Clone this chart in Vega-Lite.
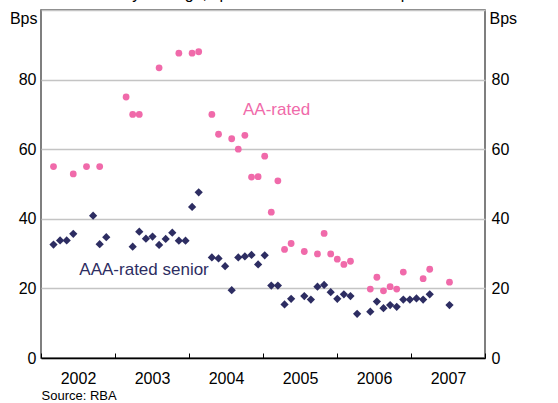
{
  "$schema": "https://vega.github.io/schema/vega-lite/v6.json",
  "width": 444,
  "height": 348,
  "autosize": {"type": "none"},
  "padding": {"left": 41, "top": 10, "right": 73, "bottom": 45},
  "background": "white",
  "config": {
    "font": "Liberation Sans",
    "view": {"stroke": "#555555", "strokeWidth": 1.5},
    "axis": {"labelFont": "Liberation Sans", "titleFont": "Liberation Sans", "labelColor": "#000000", "titleColor": "#000000"}
  },
  "title": {
    "text": "Monthly average, spread to the bank bill swap rate",
    "fontSize": 16,
    "fontWeight": "normal",
    "color": "#000000",
    "anchor": "middle",
    "frame": "group",
    "baseline": "alphabetic",
    "offset": -5
  },
  "datasets": {
    "spreads": [
      {"t": 2002.169, "series": "AAA-rated senior", "bps": 32.6},
      {"t": 2002.258, "series": "AAA-rated senior", "bps": 33.8},
      {"t": 2002.347, "series": "AAA-rated senior", "bps": 33.8},
      {"t": 2002.436, "series": "AAA-rated senior", "bps": 35.7},
      {"t": 2002.704, "series": "AAA-rated senior", "bps": 40.9},
      {"t": 2002.793, "series": "AAA-rated senior", "bps": 32.7},
      {"t": 2002.882, "series": "AAA-rated senior", "bps": 34.7},
      {"t": 2003.239, "series": "AAA-rated senior", "bps": 32.0},
      {"t": 2003.328, "series": "AAA-rated senior", "bps": 36.3},
      {"t": 2003.418, "series": "AAA-rated senior", "bps": 34.3},
      {"t": 2003.507, "series": "AAA-rated senior", "bps": 34.9},
      {"t": 2003.596, "series": "AAA-rated senior", "bps": 32.5},
      {"t": 2003.685, "series": "AAA-rated senior", "bps": 34.2},
      {"t": 2003.774, "series": "AAA-rated senior", "bps": 36.0},
      {"t": 2003.863, "series": "AAA-rated senior", "bps": 33.7},
      {"t": 2003.953, "series": "AAA-rated senior", "bps": 33.7},
      {"t": 2004.042, "series": "AAA-rated senior", "bps": 43.4},
      {"t": 2004.131, "series": "AAA-rated senior", "bps": 47.6},
      {"t": 2004.309, "series": "AAA-rated senior", "bps": 28.9},
      {"t": 2004.399, "series": "AAA-rated senior", "bps": 28.6},
      {"t": 2004.488, "series": "AAA-rated senior", "bps": 26.4},
      {"t": 2004.577, "series": "AAA-rated senior", "bps": 19.5},
      {"t": 2004.666, "series": "AAA-rated senior", "bps": 28.9},
      {"t": 2004.755, "series": "AAA-rated senior", "bps": 29.2},
      {"t": 2004.845, "series": "AAA-rated senior", "bps": 29.6},
      {"t": 2004.934, "series": "AAA-rated senior", "bps": 26.9},
      {"t": 2005.023, "series": "AAA-rated senior", "bps": 29.5},
      {"t": 2005.112, "series": "AAA-rated senior", "bps": 20.8},
      {"t": 2005.201, "series": "AAA-rated senior", "bps": 20.8},
      {"t": 2005.291, "series": "AAA-rated senior", "bps": 15.4},
      {"t": 2005.380, "series": "AAA-rated senior", "bps": 17.0},
      {"t": 2005.558, "series": "AAA-rated senior", "bps": 17.8},
      {"t": 2005.647, "series": "AAA-rated senior", "bps": 16.8},
      {"t": 2005.736, "series": "AAA-rated senior", "bps": 20.5},
      {"t": 2005.826, "series": "AAA-rated senior", "bps": 21.0},
      {"t": 2005.915, "series": "AAA-rated senior", "bps": 18.9},
      {"t": 2006.004, "series": "AAA-rated senior", "bps": 17.0},
      {"t": 2006.093, "series": "AAA-rated senior", "bps": 18.3},
      {"t": 2006.182, "series": "AAA-rated senior", "bps": 17.8},
      {"t": 2006.272, "series": "AAA-rated senior", "bps": 12.7},
      {"t": 2006.450, "series": "AAA-rated senior", "bps": 13.3},
      {"t": 2006.539, "series": "AAA-rated senior", "bps": 16.2},
      {"t": 2006.628, "series": "AAA-rated senior", "bps": 14.3},
      {"t": 2006.718, "series": "AAA-rated senior", "bps": 15.2},
      {"t": 2006.807, "series": "AAA-rated senior", "bps": 14.7},
      {"t": 2006.896, "series": "AAA-rated senior", "bps": 16.8},
      {"t": 2006.985, "series": "AAA-rated senior", "bps": 16.8},
      {"t": 2007.074, "series": "AAA-rated senior", "bps": 17.1},
      {"t": 2007.164, "series": "AAA-rated senior", "bps": 16.8},
      {"t": 2007.253, "series": "AAA-rated senior", "bps": 18.3},
      {"t": 2007.520, "series": "AAA-rated senior", "bps": 15.2},
      {"t": 2002.169, "series": "AA-rated", "bps": 55.0},
      {"t": 2002.436, "series": "AA-rated", "bps": 52.9},
      {"t": 2002.615, "series": "AA-rated", "bps": 55.0},
      {"t": 2002.793, "series": "AA-rated", "bps": 55.0},
      {"t": 2003.150, "series": "AA-rated", "bps": 75.0},
      {"t": 2003.239, "series": "AA-rated", "bps": 70.0},
      {"t": 2003.328, "series": "AA-rated", "bps": 70.0},
      {"t": 2003.596, "series": "AA-rated", "bps": 83.4},
      {"t": 2003.863, "series": "AA-rated", "bps": 87.6},
      {"t": 2004.042, "series": "AA-rated", "bps": 87.6},
      {"t": 2004.131, "series": "AA-rated", "bps": 88.0},
      {"t": 2004.309, "series": "AA-rated", "bps": 70.0},
      {"t": 2004.399, "series": "AA-rated", "bps": 64.3},
      {"t": 2004.577, "series": "AA-rated", "bps": 63.0},
      {"t": 2004.666, "series": "AA-rated", "bps": 60.0},
      {"t": 2004.755, "series": "AA-rated", "bps": 64.0},
      {"t": 2004.845, "series": "AA-rated", "bps": 52.0},
      {"t": 2004.934, "series": "AA-rated", "bps": 52.1},
      {"t": 2005.023, "series": "AA-rated", "bps": 58.0},
      {"t": 2005.112, "series": "AA-rated", "bps": 41.9},
      {"t": 2005.201, "series": "AA-rated", "bps": 50.9},
      {"t": 2005.291, "series": "AA-rated", "bps": 31.2},
      {"t": 2005.380, "series": "AA-rated", "bps": 32.9},
      {"t": 2005.558, "series": "AA-rated", "bps": 30.6},
      {"t": 2005.736, "series": "AA-rated", "bps": 29.9},
      {"t": 2005.826, "series": "AA-rated", "bps": 35.8},
      {"t": 2005.915, "series": "AA-rated", "bps": 29.9},
      {"t": 2006.004, "series": "AA-rated", "bps": 28.4},
      {"t": 2006.093, "series": "AA-rated", "bps": 26.9},
      {"t": 2006.182, "series": "AA-rated", "bps": 27.8},
      {"t": 2006.450, "series": "AA-rated", "bps": 19.8},
      {"t": 2006.539, "series": "AA-rated", "bps": 23.2},
      {"t": 2006.628, "series": "AA-rated", "bps": 19.3},
      {"t": 2006.718, "series": "AA-rated", "bps": 20.5},
      {"t": 2006.807, "series": "AA-rated", "bps": 19.8},
      {"t": 2006.896, "series": "AA-rated", "bps": 24.7},
      {"t": 2007.164, "series": "AA-rated", "bps": 22.8},
      {"t": 2007.253, "series": "AA-rated", "bps": 25.5},
      {"t": 2007.520, "series": "AA-rated", "bps": 21.8}
    ]
  },
  "layer": [
    {
      "data": {"name": "spreads"},
      "mark": {"type": "point", "filled": true, "opacity": 1, "clip": true},
      "encoding": {
        "x": {
          "field": "t",
          "type": "quantitative",
          "scale": {"domain": [2002, 2008], "nice": false, "zero": false},
          "axis": {
            "values": [2002, 2003, 2004, 2005, 2006, 2007, 2008],
            "labelExpr": "datum.value < 2008 ? format(datum.value, 'd') : ''",
            "labelOffset": 37,
            "labelFontSize": 16,
            "labelPadding": 17,
            "labelFlush": false,
            "labelOverlap": false,
            "tickSize": -5,
            "tickColor": "#000000",
            "tickWidth": 1,
            "domainColor": "#000000",
            "domainWidth": 1.5,
            "grid": false,
            "title": "Source: RBA",
            "titleFontSize": 13,
            "titleFontWeight": "normal",
            "titleAnchor": "start",
            "titleAlign": "left",
            "titlePadding": 3
          }
        },
        "y": {
          "field": "bps",
          "type": "quantitative",
          "scale": {"domain": [0, 100], "nice": false, "zero": true},
          "axis": {
            "orient": "left",
            "values": [0, 20, 40, 60, 80, 100],
            "labelExpr": "datum.value < 100 ? format(datum.value, 'd') : ''",
            "labelFontSize": 16,
            "labelPadding": 5,
            "labelFlush": false,
            "ticks": false,
            "domain": false,
            "grid": true,
            "gridColor": "#C4C4C4",
            "gridWidth": 1.5,
            "title": "Bps",
            "titleFontSize": 16,
            "titleFontWeight": "normal",
            "titleAngle": 0,
            "titleAlign": "right",
            "titleBaseline": "middle",
            "titleX": -4,
            "titleY": 8
          }
        },
        "shape": {
          "field": "series",
          "type": "nominal",
          "scale": {"domain": ["AA-rated", "AAA-rated senior"], "range": ["circle", "diamond"]},
          "legend": null
        },
        "size": {
          "field": "series",
          "type": "nominal",
          "scale": {"domain": ["AA-rated", "AAA-rated senior"], "range": [46, 68]},
          "legend": null
        },
        "color": {
          "field": "series",
          "type": "nominal",
          "scale": {"domain": ["AA-rated", "AAA-rated senior"], "range": ["#F06AAA", "#2D2D62"]},
          "legend": null
        }
      }
    },
    {
      "data": {"values": [{"label": "axis"}]},
      "mark": {"type": "rule", "opacity": 0},
      "encoding": {
        "y": {
          "datum": 0,
          "type": "quantitative",
          "axis": {
            "orient": "right",
            "values": [0, 20, 40, 60, 80, 100],
            "labelExpr": "datum.value < 100 ? format(datum.value, 'd') : ''",
            "labelFontSize": 16,
            "labelPadding": 6,
            "labelFlush": false,
            "ticks": false,
            "domain": false,
            "grid": false,
            "title": "Bps",
            "titleFontSize": 16,
            "titleFontWeight": "normal",
            "titleAngle": 0,
            "titleAlign": "left",
            "titleBaseline": "middle",
            "titleX": 4,
            "titleY": 8
          }
        }
      }
    },
    {
      "data": {"values": [{"label": "AA-rated"}]},
      "mark": {"type": "text", "align": "left", "baseline": "middle", "fontSize": 17, "font": "Liberation Sans", "color": "#F06AAA"},
      "encoding": {
        "x": {"datum": 2004.73, "type": "quantitative"},
        "y": {"datum": 71.3, "type": "quantitative", "axis": null},
        "text": {"field": "label", "type": "nominal"}
      }
    },
    {
      "data": {"values": [{"label": "AAA-rated senior"}]},
      "mark": {"type": "text", "align": "left", "baseline": "middle", "fontSize": 17, "font": "Liberation Sans", "color": "#2D2D62"},
      "encoding": {
        "x": {"datum": 2002.518, "type": "quantitative"},
        "y": {"datum": 25.3, "type": "quantitative", "axis": null},
        "text": {"field": "label", "type": "nominal"}
      }
    }
  ],
  "resolve": {"scale": {"y": "shared"}, "axis": {"y": "independent"}}
}
